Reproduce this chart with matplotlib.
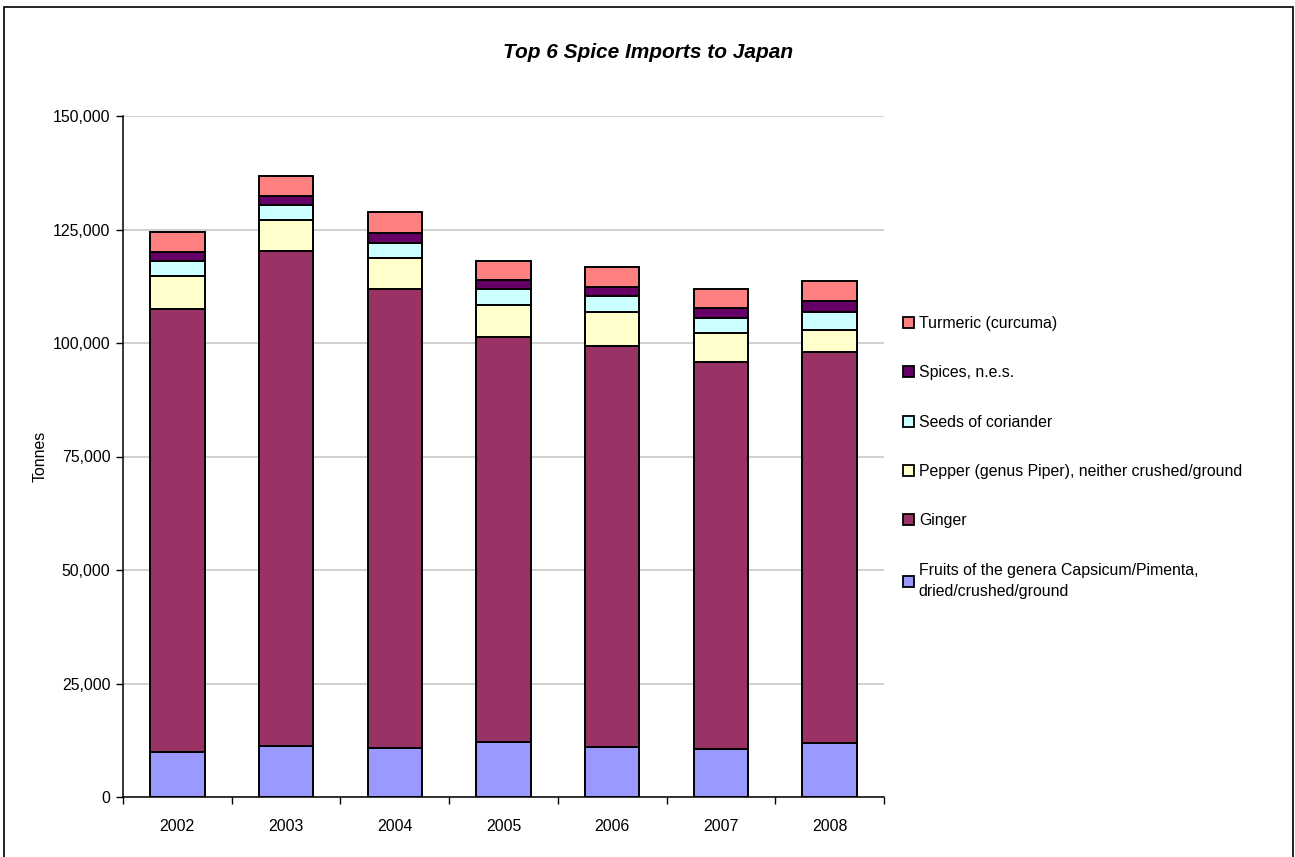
import matplotlib.pyplot as plt
import matplotlib.patches as mpatches
import numpy as np

plt.rcParams['font.family'] = ['Liberation Sans', 'DejaVu Sans']

# data (tonnes)
years = ['2002', '2003', '2004', '2005', '2006', '2007', '2008']
fruits = [10000, 11200, 10900, 12200, 11000, 10600, 11800]
ginger = [97500, 109100, 101100, 89100, 88300, 85200, 86300]
pepper = [7300, 6900, 6700, 7100, 7500, 6400, 4700]
coriander = [3200, 3200, 3300, 3500, 3500, 3200, 4000]
spices = [2000, 2000, 2200, 2000, 2000, 2200, 2400]
turmeric = [4400, 4300, 4700, 4200, 4400, 4400, 4500]

series = [
    ('Fruits of the genera Capsicum/Pimenta,\ndried/crushed/ground', fruits, '#9999FF'),
    ('Ginger', ginger, '#993366'),
    ('Pepper (genus Piper), neither crushed/ground', pepper, '#FFFFCC'),
    ('Seeds of coriander', coriander, '#CCFFFF'),
    ('Spices, n.e.s.', spices, '#660066'),
    ('Turmeric (curcuma)', turmeric, '#FF8080'),
]

W, H = 1295, 857
fig = plt.figure(figsize=(W / 100, H / 100), dpi=100)
ax = fig.add_axes([123 / W, 1 - 797 / H, (884 - 123) / W, (797 - 116) / H])

x = np.arange(len(years))
bottom = np.zeros(len(years))
handles = []
for name, vals, col in series:
    ax.bar(x, vals, 0.5, bottom=bottom, color=col, edgecolor='black', linewidth=1.4, zorder=3)
    bottom += np.array(vals)
    handles.append(mpatches.Patch(facecolor=col, edgecolor='black', linewidth=1.3, label=name))

ax.set_xlim(-0.5, len(years) - 0.5)
ax.set_ylim(0, 150000)
ax.set_yticks(np.arange(0, 150001, 25000))
ax.set_yticklabels(['{:,}'.format(v) for v in range(0, 150001, 25000)], fontsize=11.4)
ax.yaxis.grid(True, color='#C8C8C8', linewidth=1.2, zorder=0)
ax.set_axisbelow(True)

ax.set_xticks(x)
ax.set_xticklabels(years, fontsize=11.4)
ax.tick_params(axis='x', which='major', length=0, pad=16)
ax.set_xticks(np.arange(-0.5, len(years), 1), minor=True)
ax.tick_params(axis='x', which='minor', length=5, width=1, direction='out')
ax.tick_params(axis='y', length=5, width=1, direction='out', pad=4)

for s in ['top', 'right']:
    ax.spines[s].set_visible(False)
for s in ['left', 'bottom']:
    ax.spines[s].set_linewidth(1.1)

ax.set_ylabel('Tonnes', fontsize=11.4, labelpad=4)

fig.text(648 / W, 1 - 52 / H, 'Top 6 Spice Imports to Japan', ha='center', va='center',
         fontsize=15, fontweight='bold', fontstyle='italic')

leg = fig.legend(handles[::-1], [h.get_label() for h in handles[::-1]],
                 loc='upper left', bbox_to_anchor=(903 / W, 1 - 316 / H),
                 frameon=False, fontsize=11.4, handlelength=0.7, handleheight=0.7,
                 handletextpad=0.3, labelspacing=2.17, borderaxespad=0, borderpad=0)
leg.get_texts()[-1].set_linespacing(1.55)

# outer chart border
fig.patches.append(mpatches.Rectangle((4 / W, -0.01), (1293 - 4) / W, 1 - 7 / H + 0.01,
                                      transform=fig.transFigure, fill=False,
                                      edgecolor='black', linewidth=1.2))

fig.savefig('out.png', dpi=100)
